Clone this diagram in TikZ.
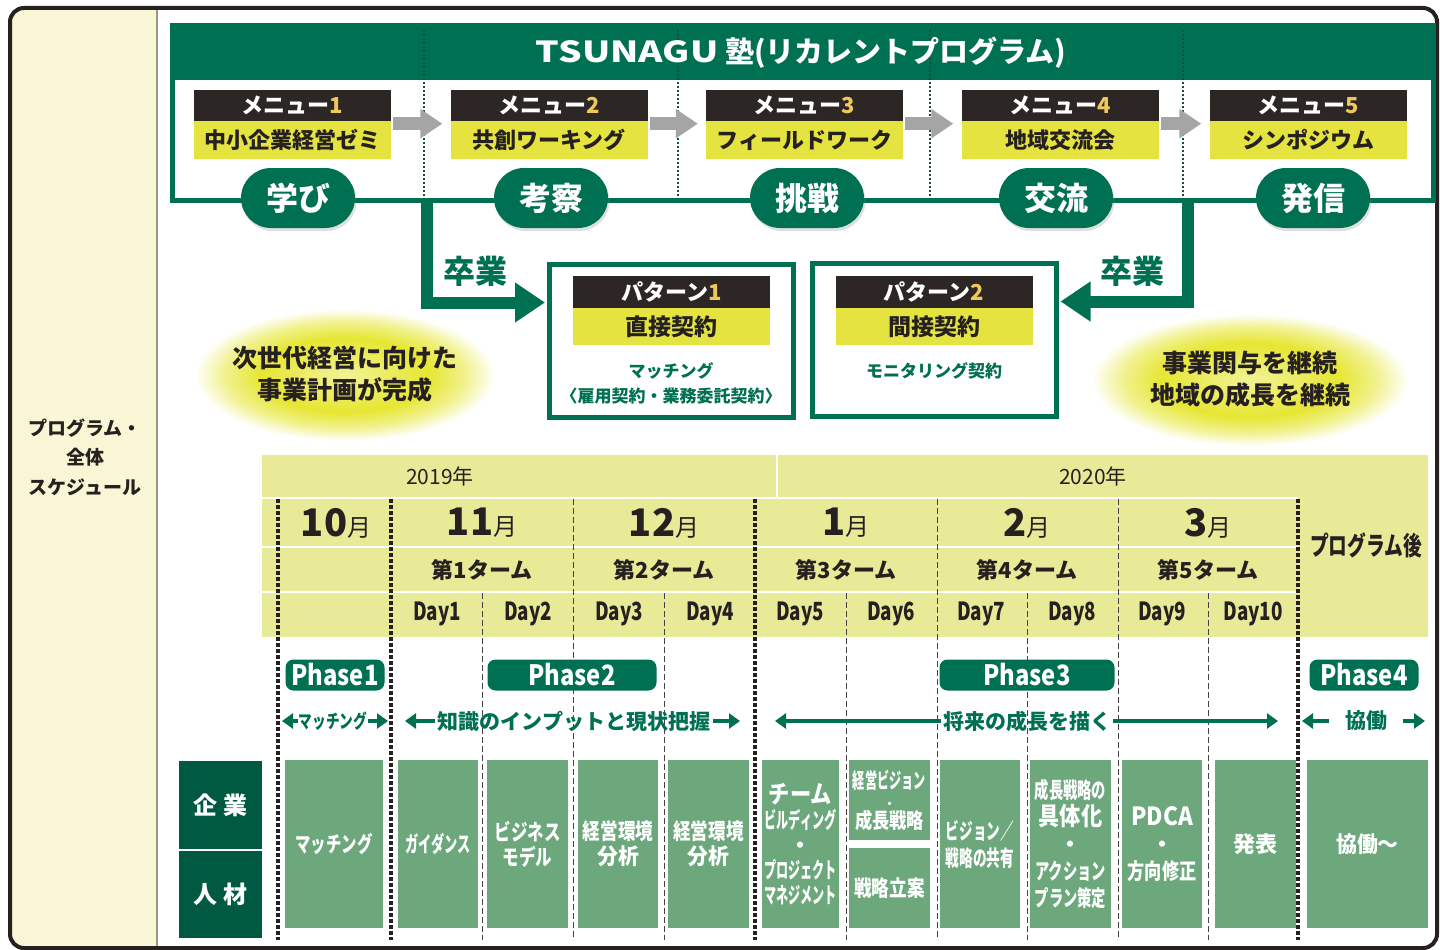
\documentclass[tikz,border=0pt]{standalone}
\usepackage{fontspec}
\setmainfont{Noto Sans CJK JP}
\usepackage{graphicx}
\usetikzlibrary{arrows.meta,shadows,positioning}

\definecolor{tgreen}{RGB}{0,112,82}
\definecolor{lgreen}{RGB}{0,90,66}
\definecolor{kgreen}{RGB}{108,168,124}
\definecolor{dotg}{RGB}{20,80,60}
\definecolor{band}{RGB}{232,234,152}
\definecolor{myel}{RGB}{228,227,64}
\definecolor{hblack}{RGB}{44,39,37}
\definecolor{cream}{RGB}{248,246,212}
\definecolor{numy}{RGB}{240,200,90}
\definecolor{ink}{RGB}{38,33,32}
\definecolor{garrow}{RGB}{165,165,165}
\definecolor{glowy}{RGB}{230,230,50}

\pgfdeclareradialshading{glow}{\pgfpoint{0bp}{0bp}}{color(0bp)=(glowy!50!white); color(14bp)=(glowy); color(20bp)=(glowy!55!white); color(25bp)=(white); color(50bp)=(white)}

\newcommand{\fs}[2]{\fontsize{#1}{#2}\selectfont}
\newcommand{\sq}[2]{\scalebox{#1}[1]{#2}}

\tikzset{
	mhead/.style={fill=hblack, text=white, font=\bfseries\fs{22}{26}, minimum width=197pt, minimum height=31pt, inner sep=0pt},
	mbody/.style={fill=myel, text=ink, font=\bfseries\fs{22}{26}, minimum width=197pt, minimum height=38pt, inner sep=0pt},
	grayarr/.style={draw=garrow, line width=13pt, -{Triangle[length=22pt,width=28pt]}, shorten <=2pt, shorten >=8pt},
	pill/.style={fill=tgreen, text=white, font=\bfseries\fs{32}{36}, minimum width=114pt, minimum height=60pt, rounded corners=30pt, drop shadow={shadow xshift=1.5pt, shadow yshift=-3pt, opacity=.25}},
	gradtxt/.style={text=tgreen, font=\bfseries\fs{32}{36}},
	gradarr/.style={draw=tgreen, line width=12pt, -{Triangle[length=30pt,width=38pt]}, shorten >=2pt},
	pbox/.style={draw=tgreen, line width=5pt, fill=white, minimum width=244pt, minimum height=153pt},
	ptxt/.style={text=tgreen, font=\bfseries\fs{17}{25}, align=center},
	glowtxt/.style={text=ink, font=\bfseries\fs{25}{32}, align=center},
	yr/.style={text=ink, font=\fs{21}{24}},
	mon/.style={text=ink, font=\bfseries\fs{24}{30}},
	term/.style={text=ink, font=\bfseries\fs{22}{26}},
	day/.style={text=ink, font=\bfseries\fs{25}{28}},
	bigdash/.style={draw=ink, line width=3.5pt, dash pattern=on 4pt off 2pt},
	thindash/.style={draw=ink!85, line width=1pt, dash pattern=on 6pt off 3pt},
	phase/.style={fill=tgreen, text=white, font=\bfseries\fs{28}{30}, rounded corners=8pt, minimum height=31pt, inner sep=0pt},
	rng/.style={text=tgreen, font=\bfseries\fs{21}{24}, inner sep=3pt},
	rngarr/.style={draw=tgreen, line width=4.5pt, -{Triangle[length=11pt,width=15pt]}},
	side/.style={fill=lgreen, draw=white, line width=1pt, text=white, font=\bfseries\fs{24}{28}, minimum width=84pt, minimum height=89pt},
	task/.style={fill=kgreen, text=white, font=\bfseries\fs{22}{25}, align=center, minimum height=168pt, inner sep=0pt}
}

\begin{document}
\begin{tikzpicture}[x=1pt,y=-1pt]
	\useasboundingbox (0,0) rectangle (1440,950);
	\fill[white] (0,0) rectangle (1440,950);
	% frame and side panel
	\begin{scope}
		\clip[rounded corners=14pt] (10,8) rectangle (1437,948);
		\fill[cream] (10,8) rectangle (157,948);
	\end{scope}
	\draw[ink!45!cream, line width=1.5pt] (157,10) -- (157,946);
	\draw[ink, line width=4pt, rounded corners=14pt] (10,8) rectangle (1437,948);
	\node[text=ink, font=\bfseries\fs{19}{29.5}, align=center] (lab) at (85,457) {プログラム・\\全体\\スケジュール};

	% program box
	\fill[tgreen] (172,26) rectangle (1433,80);
	\draw[tgreen, line width=5pt] (172,26) rectangle (1433,200);
	\foreach \x in {424,678,930,1183}
		\draw[dotg, line width=2pt, dash pattern=on 2pt off 2pt] (\x,30) -- (\x,197);
	\node[text=white, font=\bfseries\fs{29}{34}] (ttl) at (801,53) {\sq{1.28}{TSUNAGU}\ 塾(リカレントプログラム)};

	\foreach \i/\x/\t in {1/292.5/中小企業経営ゼミ,2/549/共創ワーキング,3/804.5/フィールドワーク,4/1060/地域交流会,5/1308/シンポジウム}{
		\node[mhead] (h\i) at (\x,105) {メニュー\textcolor{numy}{\i}};
		\node[mbody, below=0pt of h\i] (b\i) {\t};
	}
	\foreach \i/\j in {1/2,2/3,3/4,4/5}
		\draw[grayarr] ([yshift=-3pt]h\i.south east) -- ([yshift=-3pt]h\j.south west);

	% graduation
	\coordinate (g1) at (427,200);
	\coordinate (g2) at (1188,200);
	\node[pbox] (pt1) at (671.5,341) {};
	\node[pbox] (pt2) at (934,340) {};
	\draw[gradarr] (g1) |- ([yshift=-40.5pt]pt1.north west);
	\draw[gradarr] (g2) |- ([yshift=-40.5pt]pt2.north east);
	\foreach \i/\x/\t in {1/298/学び,2/551/考察,3/807/挑戦,4/1056/交流,5/1313/発信}
		\node[pill] (k\i) at (\x,198) {\t};
	\node[gradtxt] (s1) at (475,271) {卒業};
	\node[gradtxt] (s2) at (1132,271) {卒業};

	\node[mhead, minimum height=32pt] (pth1) at (671.5,292) {パターン\textcolor{numy}{1}};
	\node[mbody, minimum height=37pt, font=\bfseries\fs{23}{26}, below=0pt of pth1] (ptb1) {直接契約};
	\node[ptxt] (ptx1) at (671,383) {マッチング\\〈雇用契約・業務委託契約〉};
	\node[mhead, minimum height=32pt] (pth2) at (934,292) {パターン\textcolor{numy}{2}};
	\node[mbody, minimum height=37pt, font=\bfseries\fs{23}{26}, below=0pt of pth2] (ptb2) {間接契約};
	\node[ptxt] (ptx2) at (934,371) {モニタリング契約};

	% glows
	\shade[shading=glow] (345,375) ellipse [x radius=150pt, y radius=66pt];
	\shade[shading=glow] (1250,380) ellipse [x radius=158pt, y radius=66pt];
	\node[glowtxt] (gl1) at (345,374) {次世代経営に向けた\\事業計画が完成};
	\node[glowtxt] (gl2) at (1250,379) {事業関与を継続\\地域の成長を継続};

	% schedule head
	\fill[band] (262,455) rectangle (1428,637);
	\foreach \y in {498,547,592}
		\draw[white, line width=2pt] (262,\y) -- (1298,\y);
	\draw[white, line width=2pt] (777,455) -- (777,498);
	\node[yr] (y1) at (440,476) {2019年};
	\node[yr] (y2) at (1093,476) {2020年};
	\foreach \x in {278,391,755,1298}
		\draw[bigdash] (\x,499) -- (\x,940);
	\foreach \x in {573,937,1118}
		\draw[thindash] (\x,499) -- (\x,940);
	\foreach \x in {482,664,846,1027,1208}
		\draw[thindash] (\x,593) -- (\x,940);
	\foreach \x/\n in {336/10,482/11,664/12,846/1,1027/2,1208/3}
		\node[mon] (mo\n) at (\x,523) {{\fs{38}{40}\n}\mdseries 月};
	\foreach \x/\n in {482/1,664/2,846/3,1027/4,1208/5}
		\node[term] (tm\n) at (\x,570) {第\n ターム};
	\foreach \x [count=\i] in {437,528,619,710,800,891,981,1072,1162,1253}
		\node[day] (d\i) at (\x,614) {\sq{.75}{Day\i}};
	\node[text=ink, font=\bfseries\fs{26}{28}] (pa) at (1366,545) {\sq{.72}{プログラム後}};

	% phases
	\node[phase, minimum width=99pt] (fz1) at (335,675) {\sq{.85}{Phase1}};
	\node[phase, minimum width=169pt] (fz2) at (572,675) {\sq{.85}{Phase2}};
	\node[phase, minimum width=175pt] (fz3) at (1027,675) {\sq{.85}{Phase3}};
	\node[phase, minimum width=109pt] (fz4) at (1364,675) {\sq{.85}{Phase4}};

	\node[rng, font=\bfseries\fs{19}{22}, inner sep=1pt] (r1) at (333,721) {\sq{.72}{マッチング}};
	\node[rng] (r2) at (574,721) {知識のインプットと現状把握};
	\node[rng, inner sep=2pt] (r3) at (1027,721) {将来の成長を描く};
	\node[rng, inner xsep=16pt] (r4) at (1366,721) {協働};
	\foreach \n/\a/\b in {r1/282/388,r2/405/740,r3/775/1278,r4/1302/1425}{
		\coordinate (\n-l) at (\a,721);
		\coordinate (\n-r) at (\b,721);
		\draw[rngarr] (\n.west) -- (\n-l);
		\draw[rngarr] (\n.east) -- (\n-r);
	}

	% rows
	\node[side] (co) at (220,805) {企\hspace{6pt}業};
	\node[side, minimum height=88pt] (jz) at (220,894) {人\hspace{6pt}材};

	\node[task, minimum width=98pt] (t1) at (334,844) {\sq{.7}{マッチング}};
	\node[task, minimum width=80pt] (t2) at (438,844) {\sq{.6}{ガイダンス}};
	\node[task, minimum width=81pt] (t3) at (527.5,844) {\sq{.75}{ビジネス}\\\sq{.75}{モデル}};
	\node[task, minimum width=80pt] (t4) at (618,844) {\sq{.8}{経営環境}\\\sq{.95}{分析}};
	\node[task, minimum width=81pt] (t5) at (708.5,844) {\sq{.8}{経営環境}\\\sq{.95}{分析}};
	\node[task, minimum width=77pt] (t6) at (800.5,844) {{\fs{25}{25}\sq{.85}{チーム}}\\\sq{.55}{ビルディング}\\・\\\sq{.55}{プロジェクト}\\\sq{.55}{マネジメント}};
	\node[task, minimum width=81pt, minimum height=80pt, font=\bfseries\fs{21}{20}] (t7a) at (889.5,800) {\sq{.58}{経営ビジョン}\\{\fs{12}{12}・}\\\sq{.82}{成長戦略}};
	\node[task, minimum width=81pt, minimum height=80pt] (t7b) at (889.5,888) {\sq{.8}{戦略立案}};
	\node[task, minimum width=80pt, font=\bfseries\fs{22}{27}] (t8) at (980,844) {\sq{.62}{ビジョン／}\\\sq{.62}{戦略の共有}};
	\node[task, minimum width=81pt, font=\bfseries\fs{22}{27}] (t9) at (1070.5,844) {\sq{.65}{成長戦略の}\\{\fs{25}{27}\sq{.85}{具体化}}\\・\\\sq{.65}{アクション}\\\sq{.65}{プラン策定}};
	\node[task, minimum width=80pt, font=\bfseries\fs{22}{27}] (t10) at (1162,844) {{\fs{25}{27}\sq{.9}{PDCA}}\\・\\\sq{.78}{方向修正}};
	\node[task, minimum width=81pt] (t11) at (1255.5,844) {発表};
	\node[task, minimum width=121pt] (t12) at (1367.5,844) {\sq{.95}{協働〜}};
\end{tikzpicture}
\end{document}
